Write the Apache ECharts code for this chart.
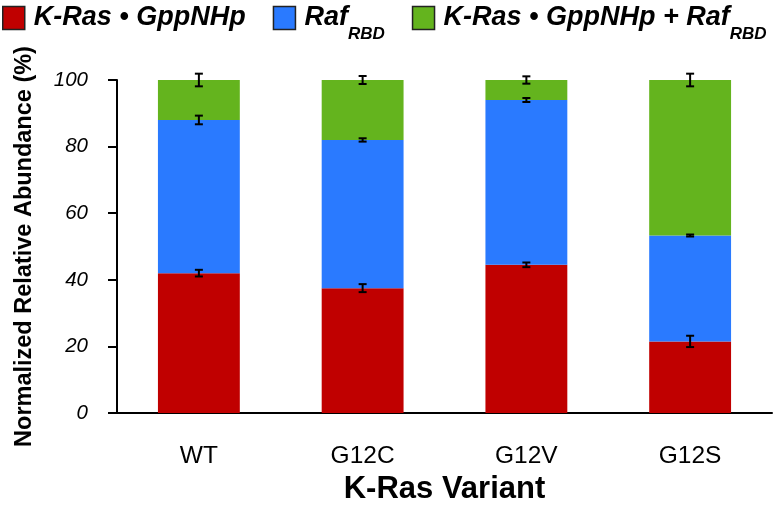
<!DOCTYPE html>
<html>
<head>
<meta charset="utf-8">
<script src="https://cdn.jsdelivr.net/npm/echarts@6/dist/echarts.min.js"></script>
<style>html,body{margin:0;padding:0;background:#fff}#c{width:774px;height:505px}</style>
</head>
<body>
<div id="c"></div>
<script>
const categories = ['WT', 'G12C', 'G12V', 'G12S'];
const seriesNames = ['K-Ras • GppNHp', 'Raf_RBD', 'K-Ras • GppNHp + Raf_RBD'];
const redValues = [42, 37.5, 44.5, 21.5];
const blueValues = [46, 44.5, 49.5, 31.8];
const greenValues = [12, 18, 6, 46.7];
const redErr = [1.0, 1.2, 0.7, 1.7];
const blueErr = [1.3, 0.5, 0.6, 0.3];
const greenErr = [1.9, 1.2, 1.1, 1.9];
const yTicks = [0, 20, 40, 60, 80, 100];

const FONT = "'Liberation Sans', Arial, sans-serif";
const colors = ['#c00000', '#2a7aff', '#64b41e'];

// error bar data: [categoryIndex, cumulative top, error]
const errData = [];
categories.forEach((c, i) => {
  const t1 = redValues[i];
  const t2 = t1 + blueValues[i];
  const t3 = t2 + greenValues[i];
  errData.push([i, t1, redErr[i]]);
  errData.push([i, t2, blueErr[i]]);
  errData.push([i, t3, greenErr[i]]);
});

function legendFmt(name) {
  if (name.indexOf('_') >= 0) {
    const parts = name.split('_');
    return '{m|' + parts[0] + '}{s|' + parts[1] + '}';
  }
  return '{m|' + name + '}';
}

const chart = echarts.init(document.getElementById('c'), null, {renderer: 'canvas'});
chart.setOption({
  animation: false,
  color: colors,
  legend: {
    left: 2, top: 4.5, padding: 0,
    itemGap: 27,
    itemWidth: 22, itemHeight: 23,
    icon: 'rect',
    itemStyle: {borderColor: '#222', borderWidth: 1.5},
    data: seriesNames,
    formatter: legendFmt,
    textStyle: {
      rich: {
        m: {fontFamily: FONT, fontSize: 27, fontWeight: 'bold', fontStyle: 'italic', color: '#000', lineHeight: 50, padding: [0, 0, 0, 4]},
        s: {fontFamily: FONT, fontSize: 17, fontWeight: 'bold', fontStyle: 'italic', color: '#000', lineHeight: 11, verticalAlign: 'bottom'}
      }
    }
  },
  grid: {left: 117, right: 2, top: 80, bottom: 92, containLabel: false, outerBoundsMode: 'none'},
  xAxis: {
    type: 'category',
    data: categories,
    name: 'K-Ras Variant',
    nameLocation: 'middle',
    nameGap: 60,
    nameTextStyle: {fontFamily: FONT, fontSize: 31, fontWeight: 'bold', color: '#000'},
    axisLine: {lineStyle: {color: '#000', width: 2}},
    axisTick: {show: false},
    axisLabel: {fontFamily: FONT, fontSize: 24.5, color: '#000', margin: 31}
  },
  yAxis: {
    type: 'value',
    min: yTicks[0], max: yTicks[yTicks.length - 1], interval: yTicks[1] - yTicks[0],
    name: 'Normalized Relative Abundance (%)',
    nameLocation: 'middle',
    nameGap: 80,
    nameTextStyle: {fontFamily: FONT, fontSize: 23.5, fontWeight: 'bold', color: '#000'},
    axisLine: {show: true, lineStyle: {color: '#000', width: 2}},
    axisTick: {show: true, length: 9, lineStyle: {color: '#000', width: 2}},
    splitLine: {show: false},
    axisLabel: {fontFamily: FONT, fontSize: 20.5, fontStyle: 'italic', color: '#000', margin: 29}
  },
  series: [
    {name: seriesNames[0], type: 'bar', stack: 'a', barWidth: '50%', data: redValues, itemStyle: {color: colors[0]}},
    {name: seriesNames[1], type: 'bar', stack: 'a', barWidth: '50%', data: blueValues, itemStyle: {color: colors[1]}},
    {name: seriesNames[2], type: 'bar', stack: 'a', barWidth: '50%', data: greenValues, itemStyle: {color: colors[2]}},
    {
      type: 'custom',
      z: 10,
      data: errData,
      encode: {x: 0, y: 1},
      renderItem: function (params, api) {
        const x = api.value(0);
        const y = api.value(1);
        const e = api.value(2);
        const hi = api.coord([x, y + e]);
        const lo = api.coord([x, y - e]);
        const hw = 4;
        const st = {stroke: '#000', lineWidth: 2};
        return {
          type: 'group',
          children: [
            {type: 'line', shape: {x1: hi[0], y1: hi[1], x2: lo[0], y2: lo[1]}, style: st},
            {type: 'line', shape: {x1: hi[0] - hw, y1: hi[1], x2: hi[0] + hw, y2: hi[1]}, style: st},
            {type: 'line', shape: {x1: lo[0] - hw, y1: lo[1], x2: lo[0] + hw, y2: lo[1]}, style: st}
          ]
        };
      }
    }
  ]
});
</script>
</body>
</html>
